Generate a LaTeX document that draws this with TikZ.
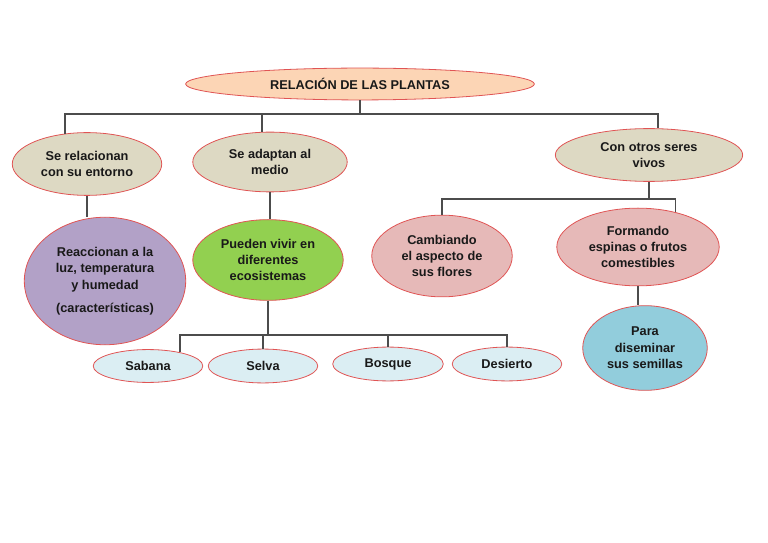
\documentclass[tikz,border=0pt]{standalone}
\usepackage{fontspec}
\setmainfont{Liberation Sans}
\usetikzlibrary{shapes.geometric}
\definecolor{rojo}{RGB}{224,84,84}
\definecolor{melocoton}{RGB}{252,213,181}
\definecolor{beige}{RGB}{221,217,195}
\definecolor{lila}{RGB}{178,161,199}
\definecolor{verde}{RGB}{146,208,80}
\definecolor{rosa}{RGB}{230,185,184}
\definecolor{celeste}{RGB}{219,238,243}
\definecolor{azul}{RGB}{146,205,220}
\begin{document}
\begin{tikzpicture}[x=1bp,y=-1bp,
	globo/.style={ellipse,draw=rojo,line width=0.8bp,inner sep=0pt,align=center,
		text=black!90,font=\fontsize{12.8}{16.5}\selectfont\bfseries},
	conn/.style={draw=black!70,line width=1.5bp}]
	\useasboundingbox (0,0) rectangle (768,543);
	% nivel 1
	\node[globo,fill=melocoton,minimum width=350,minimum height=32] (rel) at (360,84) {RELACIÓN DE LAS PLANTAS};
	% nivel 2
	\node[globo,fill=beige,minimum width=150,minimum height=63] (ent) at (87,164) {Se relacionan\\con su entorno};
	\node[globo,fill=beige,minimum width=155,minimum height=60] (ada) at (270,162) {Se adaptan al\\medio};
	\node[globo,fill=beige,minimum width=188,minimum height=53] (otr) at (649,155) {Con otros seres\\vivos};
	% nivel 3
	\node[globo,fill=lila,minimum width=162,minimum height=128] (pur) at (105,281) {Reaccionan a la\\luz, temperatura\\y humedad\\[7bp](características)};
	\node[globo,fill=verde,minimum width=151,minimum height=81] (gre) at (268,260) {Pueden vivir en\\diferentes\\ecosistemas};
	\node[globo,fill=rosa,minimum width=141,minimum height=82] (cam) at (442,256) {Cambiando\\el aspecto de\\sus flores};
	\node[globo,fill=rosa,minimum width=163,minimum height=78] (for) at (638,247) {Formando\\espinas o frutos\\comestibles};
	% nivel 4
	\node[globo,fill=celeste,minimum width=110,minimum height=33] (sab) at (148,366) {Sabana};
	\node[globo,fill=celeste,minimum width=110,minimum height=34] (sel) at (263,366) {Selva};
	\node[globo,fill=celeste,minimum width=111,minimum height=34] (bos) at (388,364) {Bosque};
	\node[globo,fill=celeste,minimum width=110,minimum height=34] (des) at (507,364) {Desierto};
	\node[globo,fill=azul,minimum width=125,minimum height=85] (par) at (645,348) {Para\\diseminar\\sus semillas};
	% conectores
	\coordinate (bus) at (0,114);
	\coordinate (bus2) at (0,335);
	\coordinate (bus3) at (0,199);
	\draw[conn] (ent.126) |- (bus -| otr.71) -- (otr.71);
	\draw[conn] (rel.south) -- (rel.south |- bus);
	\draw[conn] (ada.105) -- (ada.105 |- bus);
	\draw[conn] (ent.south) -- (ent.south |- pur.north);
	\draw[conn] (ada.south) -- (ada.south |- gre.north);
	\draw[conn] (sab.23) |- (bus2 -| des.north) -- (des.north);
	\draw[conn] (gre.south) -- (gre.south |- bus2);
	\draw[conn] (sel.north) -- (sel.north |- bus2);
	\draw[conn] (bos.north) -- (bos.north |- bus2);
	\draw[conn] (cam.north) |- (bus3 -| for.43) -- (for.43);
	\draw[conn] (otr.south) -- (otr.south |- bus3);
	\draw[conn] (for.south) -- (for.south |- par.north);
\end{tikzpicture}
\end{document}
